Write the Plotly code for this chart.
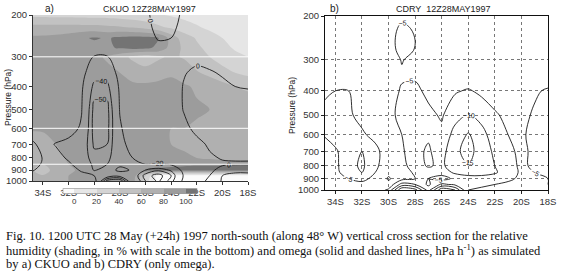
import numpy as np
import plotly.graph_objects as go

# ---------------- data ----------------
lat = [-35, -34, -33, -32, -31, -30, -29, -28, -27, -26, -25, -24, -23, -22, -21, -20, -19, -18]
pressure = [1000, 950, 900, 850, 800, 700, 600, 500, 400, 350, 300, 275, 250, 225, 200]

lat_ticks = [-34, -32, -30, -28, -26, -24, -22, -20, -18]
lat_ticktext = ['34S', '32S', '30S', '28S', '26S', '24S', '22S', '20S', '18S']
p_ticks = [200, 300, 400, 500, 600, 700, 800, 900, 1000]
p_ticktext = ['200', '300', '400', '500', '600', '700', '800', '900', '1000']

rh_levels = [0, 20, 40, 60, 80, 100]
omega_a_levels = [-60, -50, -40, -20, 0, 10]

# relative humidity (%) CKUO, rows follow `pressure`, columns follow `lat`
rh_ckuo = [
    [74, 72, 76, 80, 84, 86, 86, 88, 90, 30, -10, -10, -10, -10, -10, -10, -10, -10],
    [70, 62, 72, 80, 84, 86, 86, 88, 92, 40, -10, -10, -10, -10, -10, -10, -10, -10],
    [64, 48, 70, 78, 82, 85, 86, 86, 88, 102, 105, 106, 106, 106, 106, 106, 106, 106],
    [66, 60, 72, 80, 84, 86, 86, 86, 86, 88, 92, 95, 97, 98, 98, 98, 98, 98],
    [68, 66, 76, 82, 85, 86, 86, 86, 85, 84, 84, 84, 82, 80, 76, 72, 70, 70],
    [72, 74, 80, 84, 85, 86, 86, 86, 85, 84, 82, 80, 78, 74, 70, 68, 66, 66],
    [82, 82, 83, 85, 85, 86, 86, 86, 85, 84, 82, 80, 80, 78, 72, 70, 68, 68],
    [85, 85, 85, 85, 85, 86, 86, 86, 86, 85, 85, 84, 84, 82, 80, 78, 76, 74],
    [86, 86, 86, 86, 86, 86, 86, 86, 84, 84, 84, 84, 82, 78, 72, 66, 60, 56],
    [86, 86, 86, 86, 86, 85, 84, 80, 72, 68, 74, 78, 72, 62, 55, 48, 40, 35],
    [86, 86, 86, 86, 86, 84, 78, 68, 56, 48, 56, 64, 58, 48, 40, 30, 24, 20],
    [86, 86, 86, 88, 90, 93, 97, 102, 106, 104, 96, 72, 56, 44, 34, 25, 18, 15],
    [84, 84, 86, 90, 97, 102, 98, 104, 107, 106, 101, 72, 50, 38, 28, 20, 15, 12],
    [66, 66, 66, 66, 66, 66, 64, 62, 58, 52, 44, 36, 28, 22, 16, 13, 10, 10],
    [35, 35, 34, 34, 33, 32, 32, 30, 28, 26, 22, 18, 15, 12, 10, 8, 6, 6],
]

# omega (hPa/h) CKUO
omega_ckuo = [
    [-6, -4, -4, -6, -10, -12, -65, -70, -25, -50, -62, -45, -15, -4, 2, 11, 14, 14],
    [-12, -6, -6, -8, -15, -20, -30, -35, -30, -55, -65, -50, -18, -6, 0, 10, 12, 12],
    [-25, -10, -8, -12, -22, -42, -30, -15, -22, -40, -48, -38, -14, -6, -2, 3, 8, 8],
    [-40, -15, -12, -18, -26, -44, -40, -24, -21, -20, -22, -18, -8, -4, -2, -1, -1, -1],
    [-45, -18, -15, -22, -32, -46, -44, -28, -20, -14, -12, -8, -5, -3, -1, 0.5, 1, 1],
    [-25, -14, -21, -24, -30, -52, -50, -25, -14, -8, -6, -5, -4, -2, 1, 4, 5, 5],
    [-10, -8, -9, -14, -22, -55, -54, -22, -10, -7, -6, -6, -2, 2, 5, 6, 6, 6],
    [-6, -6, -6, -10, -19, -54, -54, -19, -9, -6, -5, -5, 0.5, 4, 5, 5, 4, 4],
    [-5, -5, -5, -6, -17, -44, -44, -17, -7, -6, -5, -4, 0.5, 3, 2, 1, 0, -0.5],
    [-4, -4, -4, -5, -14, -32, -32, -14, -6, -5, -4, -3, -0.5, 1.5, 0.5, -0.5, -1.5, -2],
    [-4, -4, -4, -4, -8, -21, -21, -8, -5, -4, -4, -3, -3, -2, -2, -2, -2, -2],
    [-4, -4, -4, -4, -6, -12, -12, -6, -4, -3, -1.5, -2, -3, -3, -3, -3, -3, -3],
    [-4, -4, -4, -4, -5, -7, -7, -5, -4, -2.5, 0.5, 0, -3, -3, -3, -3, -3, -3],
    [-3, -3, -3, -4, -4, -5, -5, -4, -3, -2, 2, 1.5, -2, -2, -3, -3, -3, -3],
    [-3, -3, -3, -4, -4, -4, -4, -3, -2, -1.5, 3, 3, -1.5, -2, -3, -3, -3, -3],
]

# omega (hPa/h) CDRY
omega_cdry = [
    [-2, -2, -3, -3, -2, -6, -25, -22, -8, -24, -20, -5, -4, -4, -3, -3, -3, -4],
    [-3, -3, -4, -4, -3, -1, -12, -10, -4, -11, -9, -6, -6, -5, -4, -4, -4, -5],
    [-3, -3, -5, -6, -4, 0.5, -3, -5, -5, -3, -6, -8, -9, -8, -6, -4, -4, -5],
    [-3, -4, -7, -10, -5, -1, -2, -6, -8, -7, -11, -12, -11, -10.5, -8, -4, -5, -6],
    [-3, -4, -8, -11, -6, -2, -3, -8, -10.5, -9, -13, -14.8, -12, -10, -7, -4, -6, -7],
    [-4, -4.5, -7, -10, -6, -3, -4, -9, -10.5, -8, -14, -16.5, -13, -9, -6, -4, -6, -7],
    [-5, -6.5, -6, -5.5, -4, -3, -5, -7, -9.5, -6, -12, -15.5, -12, -7, -5, -4.5, -6, -6.5],
    [-6, -6.5, -5.5, -4, -3, -4, -6, -7, -6, -4.5, -8, -10.3, -8, -5.5, -4, -4, -5.5, -6],
    [-4, -5, -5, -3, -2, -3, -5.5, -6, -4, -3, -4.5, -5.5, -4, -3, -2, -3, -4.5, -5.5],
    [-2, -2, -2, -2, -2, -3, -4.5, -4.5, -3, -2, -2, -2, -2, -2, -1, -1, -2, -3],
    [-2, -2, -2, -2, -2, -3, -5.2, -4, -2, -2, -2, -2, -2, -1, -1, -1, -1, -1],
    [-2, -2, -2, -2, -2, -3, -6.5, -4.8, -2, -2, -2, -2, -2, -1, -1, -1, -1, -1],
    [-2, -2, -2, -2, -2, -3, -7, -5, -2, -2, -2, -2, -2, -1, -1, -1, -1, -1],
    [-2, -2, -2, -2, -2, -3, -6, -4.5, -2, -2, -2, -2, -2, -1, -1, -1, -1, -1],
    [-2, -2, -2, -2, -2, -3, -4, -3, -2, -2, -2, -2, -2, -1, -1, -1, -1, -1],
]

white_lines_a = [300, 600, 850]

caption = [
    "Fig. 10. 1200 UTC 28 May (+24h) 1997 north-south (along 48\u00b0 W) vertical cross section for the relative",
    "humidity (shading, in % with scale in the bottom) and omega (solid and dashed lines, hPa h<sup>-1</sup>) as simulated",
    "by a) CKUO and b) CDRY (only omega).",
]

# ---------------- figure ----------------
W, H = 562, 279


def fx(x):
    return x / W


def fy(y):
    return 1 - y / H


logp = np.log10(pressure)
ytv = np.log10(p_ticks)
yrange = [np.log10(1000), np.log10(200)]
xrange_ = [-34.78, -18]

grey_scale = [
    [0 / 6, '#fbfbfb'],
    [1 / 6, '#e6e6e6'],
    [2 / 6, '#d4d4d4'],
    [3 / 6, '#c2c2c2'],
    [4 / 6, '#b0b0b0'],
    [5 / 6, '#9c9c9c'],
    [6 / 6, '#747474'],
]

fig = go.Figure()

fig.add_trace(go.Contour(
    x=lat, y=logp, z=rh_ckuo, xaxis='x', yaxis='y',
    colorscale=grey_scale,
    contours=dict(start=rh_levels[0], end=rh_levels[-1], size=rh_levels[1] - rh_levels[0],
                  coloring='fill', showlines=False),
    line=dict(width=0, smoothing=0.9),
    hoverinfo='skip',
    colorbar=dict(orientation='h', x=fx(130), xanchor='center', y=fy(196), yanchor='middle',
                  len=134, lenmode='pixels', thickness=5, outlinewidth=0.6, outlinecolor='#888',
                  tickvals=rh_levels, ticks='', tickfont=dict(size=8, color='#333', family='Liberation Sans'),
                  xpad=0, ypad=0),
))

for lev in omega_a_levels:
    fig.add_trace(go.Contour(
        x=lat, y=logp, z=omega_ckuo, xaxis='x', yaxis='y',
        contours=dict(start=lev, end=lev, size=10, coloring='none', showlabels=True,
                      labelfont=dict(size=7, color='#111', family='Liberation Sans')),
        line=dict(color='#1a1a1a', width=0.9, smoothing=1),
        showscale=False, hoverinfo='skip',
    ))

fig.add_trace(go.Contour(
    x=lat, y=logp, z=omega_cdry, xaxis='x2', yaxis='y2',
    contours=dict(start=-25, end=5, size=5, coloring='none', showlabels=True,
                  labelfont=dict(size=7, color='#111', family='Liberation Sans')),
    line=dict(color='#1a1a1a', width=0.9, smoothing=1),
    showscale=False, hoverinfo='skip',
))

tickfont = dict(size=9.5, color='#333', family='Liberation Sans')

fig.update_layout(
    width=W, height=H,
    margin=dict(l=0, r=0, t=0, b=0, autoexpand=False),
    paper_bgcolor='white', plot_bgcolor='white',
    showlegend=False,
    xaxis=dict(domain=[fx(33), fx(248)], range=xrange_, anchor='y',
               tickvals=lat_ticks, ticktext=lat_ticktext, ticks='outside', ticklen=3,
               tickcolor='#333', showline=True, linecolor='#333', linewidth=1,
               showgrid=False, zeroline=False, tickfont=tickfont, automargin=False),
    yaxis=dict(domain=[fy(181), fy(15)], range=yrange, anchor='x',
               tickvals=ytv, ticktext=p_ticktext, ticks='outside', ticklen=3,
               tickcolor='#333', showline=True, linecolor='#333', linewidth=1,
               showgrid=False, zeroline=False, tickfont=tickfont, automargin=False),
    xaxis2=dict(domain=[fx(325), fx(548)], range=xrange_, anchor='y2',
                tickvals=lat_ticks, ticktext=lat_ticktext, ticks='outside', ticklen=3,
                tickcolor='#222', showline=True, mirror=True, linecolor='#111', linewidth=1,
                showgrid=True, gridcolor='#777', griddash='dot', gridwidth=0.8,
                zeroline=False, tickfont=tickfont, automargin=False),
    yaxis2=dict(domain=[fy(190), fy(16)], range=yrange, anchor='x2',
                tickvals=ytv, ticktext=p_ticktext, ticks='outside', ticklen=3,
                tickcolor='#222', showline=True, mirror=True, linecolor='#111', linewidth=1,
                showgrid=True, gridcolor='#777', griddash='dot', gridwidth=0.8,
                zeroline=False, tickfont=tickfont, automargin=False),
)

for pv in white_lines_a:
    fig.add_shape(type='line', xref='x domain', yref='y', x0=0, x1=1,
                  y0=np.log10(pv), y1=np.log10(pv), line=dict(color='white', width=1), layer='above')


def ann(text, x, y, size, xanchor='center', angle=0, family='Liberation Sans', color='#222'):
    fig.add_annotation(text=text, x=fx(x), y=fy(y), xref='paper', yref='paper',
                       xanchor=xanchor, yanchor='middle', showarrow=False, textangle=angle,
                       font=dict(size=size, color=color, family=family))


ann('a)', 49, 9, 10)
ann('CKUO 12Z28MAY1997', 149, 9, 9)
ann('b)', 334, 9, 10)
ann('CDRY  12Z28MAY1997', 443, 9, 9)
ann('Pressure (hPa)', 8, 98, 8.5, angle=-90)
ann('Pressure (hPa)', 292, 106, 8.5, angle=-90)

for i, line in enumerate(caption):
    ann(line, 4, 236 + 14 * i, 12.5, xanchor='left', family='Liberation Serif', color='#111')

# the default page body has an 8 px margin; remove it so the figure sits at the window origin
fig.write_html("out.html", config={'displayModeBar': False},
               post_script="document.body.style.margin='0px';")
